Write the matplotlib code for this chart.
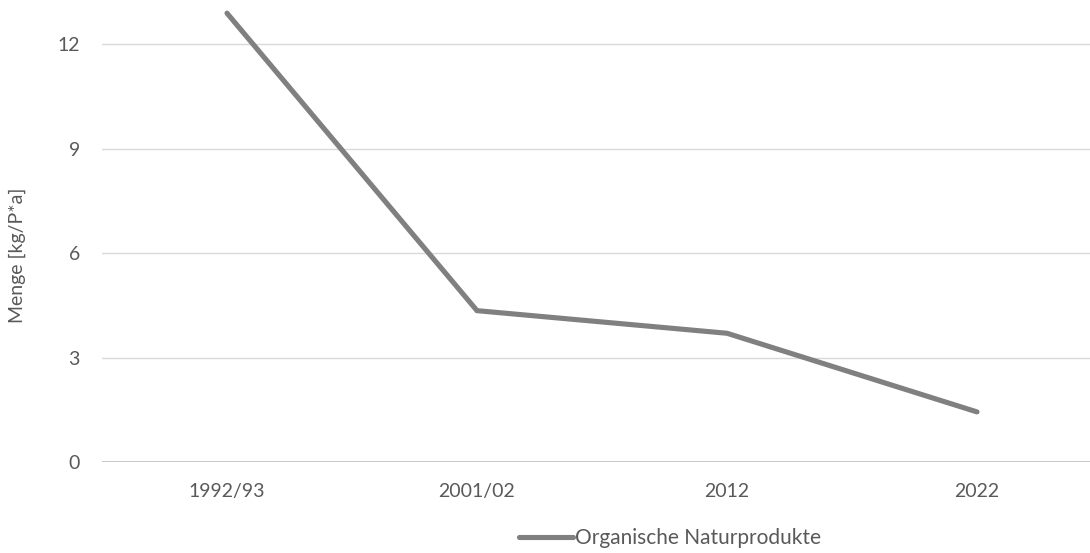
import matplotlib
matplotlib.use("Agg")
import matplotlib.pyplot as plt

# data
years = ["1992/93", "2001/02", "2012", "2022"]
menge = [12.9, 4.35, 3.7, 1.44]
y_ticks = [0, 3, 6, 9, 12]
series_name = "Organische Naturprodukte"

plt.rcParams['font.family'] = ['Lato', 'DejaVu Sans']

W, H = 1090, 553
fig = plt.figure(figsize=(W / 100, H / 100), dpi=100)

# plot area in pixels (right edge runs past the picture, like the reference crop)
left, right, bottom_px, top_px = 102, 1102, 462, 1
ax = fig.add_axes([left / W, (H - bottom_px) / H, (right - left) / W, (bottom_px - top_px) / H])

x = range(len(years))
ax.plot(x, menge, color='#808080', lw=3.7, solid_capstyle='round', solid_joinstyle='miter',
        label=series_name, zorder=3)

ax.set_xlim(-0.5, 3.5)
ax.set_ylim(0, 13.25)
ax.set_yticks(y_ticks)
ax.set_yticklabels([str(v) for v in y_ticks])
ax.set_xticks(list(x))
ax.set_xticklabels(years)

for v in y_ticks[1:]:
    ax.axhline(v, color='#d9d9d9', lw=1.0, zorder=1)
ax.axhline(0, color='#bfbfbf', lw=1.2, zorder=2)

for s in ax.spines.values():
    s.set_visible(False)
ax.tick_params(axis='both', length=0, labelsize=14, labelcolor='#595959')
ax.tick_params(axis='y', pad=16)
ax.tick_params(axis='x', pad=15)

fig.text(17 / W, 1 - 255 / H, "Menge [kg/P*a]", rotation=90, ha='center', va='center',
         fontsize=14, color='#595959')

leg = fig.legend(loc='center', bbox_to_anchor=(670 / W, 1 - 538 / H), frameon=False,
                 fontsize=15, handlelength=2.6, handletextpad=0.1, labelcolor='#595959')

fig.savefig("out.png", dpi=100)
